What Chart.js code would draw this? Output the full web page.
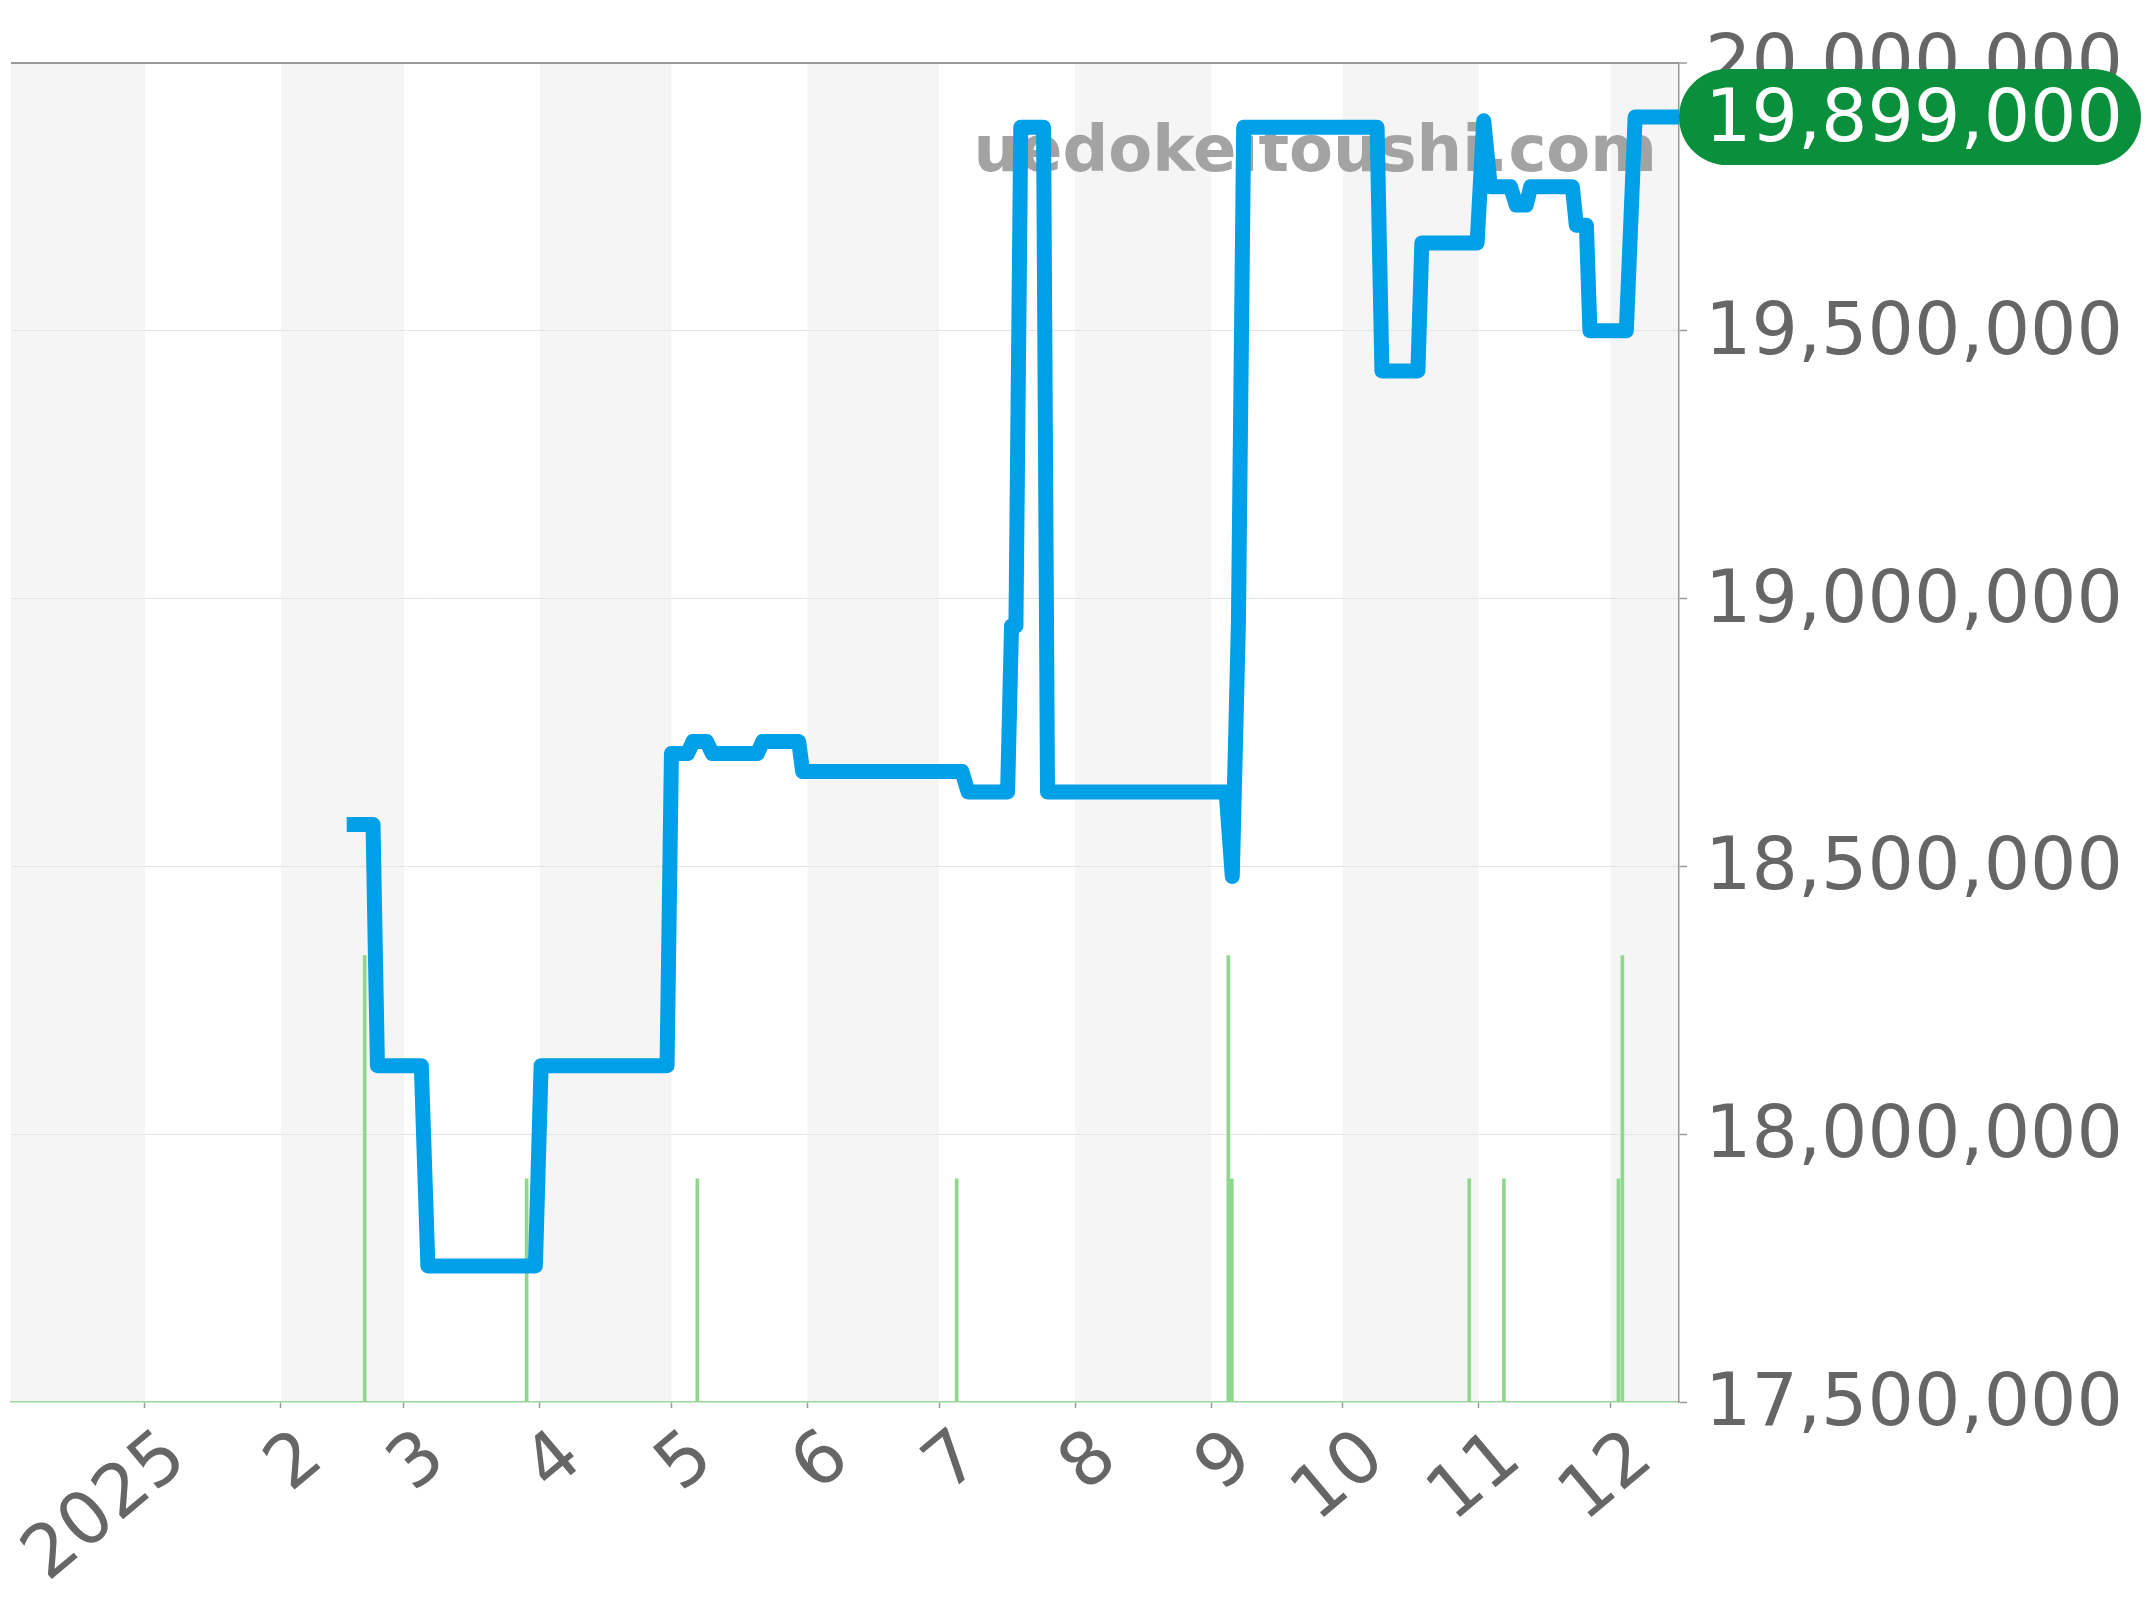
<!DOCTYPE html>
<html><head><meta charset="utf-8">
<script src="https://cdn.jsdelivr.net/npm/chart.js@4.4.1/dist/chart.umd.min.js"></script>
<style>html,body{margin:0;padding:0;background:#fff;}#wrap{width:2144px;height:1600px;}</style>
</head><body><div id="wrap"><canvas id="c" width="2144" height="1600"></canvas></div>
<script>
// x values are days counted from 2025-01-01 (day 0)
const monthStartDays = [0,31,59,90,120,151,181,212,243,273,304,334];
const monthLabels = ['2025','2','3','4','5','6','7','8','9','10','11','12'];
const xMinDay = -30.5;
const xMaxDay = 349.6;

const priceDays = [46,52,53,63,64.5,89,90.3,119,120,123.7,124.9,128,129.3,139.6,140.8,149,149.9,186.2,187.6,196.6,197.5,198.5,199.6,204.8,205.7,246.4,247.8,249.2,250.4,280.8,281.9,290.1,291,303.6,305.1,306.6,311.2,312.5,314.8,315.8,325.3,326.2,328.5,329.3,337.6,339.6,349.6];
const priceValues = [18578000,18578000,18128000,18128000,17754000,17754000,18128000,18128000,18711000,18711000,18733000,18733000,18711000,18711000,18733000,18733000,18677000,18677000,18639000,18639000,18949000,18949000,19880000,19880000,18639000,18639000,18481000,18955000,19880000,19880000,19425000,19425000,19664000,19664000,19892000,19769000,19769000,19735000,19735000,19769000,19769000,19697000,19697000,19500000,19500000,19899000,19899000];

const volumeDays = [50.1,87,125.9,185,246.9,247.7,301.8,309.7,335.8,336.7];
const volumeCounts = [2,1,1,1,2,1,1,1,1,2];

const yMin = 17500000, yMax = 20000000, yStep = 500000;
const lastPrice = priceValues[priceValues.length - 1];
const watermarkText = 'uedokeitoushi.com';

function fmt(v){ return String(Math.round(v)).replace(/\B(?=(\d{3})+(?!\d))/g, ','); }

const FONT = '"DejaVu Sans", sans-serif';
const LABEL_SIZE = 73;

const bandsPlugin = {
  id: 'bands',
  beforeDraw(chart){
    const {ctx, chartArea: a, scales: {x}} = chart;
    const b = [xMinDay, ...monthStartDays, xMaxDay];
    ctx.save();
    for (let i = 0; i < b.length - 1; i++) {
      if (i % 2 === 0) {
        const x0 = Math.max(a.left, x.getPixelForValue(b[i]));
        const x1 = Math.min(a.right, x.getPixelForValue(b[i+1]));
        ctx.fillStyle = '#f5f5f5';
        ctx.fillRect(x0, a.top, x1 - x0, a.bottom - a.top);
      }
    }
    ctx.restore();
  }
};

const watermarkPlugin = {
  id: 'watermark',
  beforeDatasetsDraw(chart){
    const {ctx, chartArea: a} = chart;
    ctx.save();
    ctx.font = 'bold 64px ' + FONT;
    ctx.fillStyle = '#a3a3a3';
    ctx.textAlign = 'right';
    ctx.textBaseline = 'alphabetic';
    ctx.fillText(watermarkText, a.right - 22, a.top + 108);
    ctx.restore();
  }
};

const lastLabelPlugin = {
  id: 'lastLabel',
  afterDraw(chart){
    const {ctx, scales: {y}} = chart;
    const py = y.getPixelForValue(lastPrice);
    const txt = fmt(lastPrice);
    ctx.save();
    ctx.font = LABEL_SIZE + 'px ' + FONT;
    const tx = y.left + 8 + 18;
    const w = ctx.measureText(txt).width;
    const x0 = y.left, x1 = tx + w + 18;
    const h = 96, r = h / 2;
    const y0 = py - r;
    ctx.fillStyle = '#0a8f3c';
    ctx.beginPath();
    ctx.moveTo(x0 + r, y0);
    ctx.lineTo(x1 - r, y0);
    ctx.arc(x1 - r, py, r, -Math.PI/2, Math.PI/2);
    ctx.lineTo(x0 + r, y0 + h);
    ctx.arc(x0 + r, py, r, Math.PI/2, Math.PI*1.5);
    ctx.closePath();
    ctx.fill();
    ctx.fillStyle = '#ffffff';
    ctx.textAlign = 'left';
    ctx.textBaseline = 'middle';
    ctx.fillText(txt, tx, py + 5);
    ctx.restore();
  }
};

new Chart(document.getElementById('c'), {
  type: 'line',
  data: {
    datasets: [
      {
        type: 'line',
        data: priceDays.map((d, i) => ({x: d, y: priceValues[i]})),
        borderColor: '#00a0e9',
        borderWidth: 15,
        borderJoinStyle: 'round',
        borderCapStyle: 'butt',
        pointRadius: 0,
        tension: 0,
        fill: false,
        yAxisID: 'y',
        order: 1
      },
      {
        type: 'bar',
        data: volumeDays.map((d, i) => ({x: d, y: volumeCounts[i]})),
        backgroundColor: '#8fd68f',
        barThickness: 3,
        yAxisID: 'y2',
        order: 2
      }
    ]
  },
  options: {
    responsive: false,
    devicePixelRatio: 1,
    animation: false,
    layout: {padding: {left: 11, top: 63, right: 0, bottom: 0}},
    plugins: {legend: {display: false}, tooltip: {enabled: false}},
    scales: {
      x: {
        type: 'linear',
        min: xMinDay,
        max: xMaxDay,
        offset: false,
        afterBuildTicks: s => { s.ticks = monthStartDays.map(v => ({value: v})); },
        afterFit: s => { s.height = 198; s.paddingLeft = 0; s.paddingRight = 0; },
        ticks: {
          autoSkip: false,
          minRotation: 40,
          maxRotation: 40,
          labelOffset: 33,
          padding: 7,
          color: '#666',
          font: {family: FONT, size: LABEL_SIZE},
          callback: (v, i) => monthLabels[i]
        },
        grid: {display: true, offset: false, drawOnChartArea: false, tickLength: 6, tickColor: '#999', tickWidth: 1.5},
        border: {display: true, color: '#9ad69a', width: 1.5, dash: [3, 2]}
      },
      y: {
        type: 'linear',
        position: 'right',
        min: yMin,
        max: yMax,
        afterFit: s => { s.width = 465; },
        ticks: {
          stepSize: yStep,
          color: '#666',
          padding: 18,
          labelOffset: 4,
          font: {family: FONT, size: LABEL_SIZE},
          callback: v => fmt(v)
        },
        grid: {
          offset: false,
          color: c => (c.tick && c.tick.value === yMax) ? '#9a9a9a' : ((c.tick && c.tick.value === yMin) ? 'rgba(0,0,0,0)' : '#e4e4e4'),
          lineWidth: c => (c.tick && c.tick.value === yMax) ? 2 : 1,
          tickLength: 8,
          tickColor: '#999',
          tickWidth: 1.5
        },
        border: {color: '#999', width: 1.5}
      },
      y2: {display: false, min: 0, max: 6}
    }
  },
  plugins: [bandsPlugin, watermarkPlugin, lastLabelPlugin]
});
</script>
</body></html>
